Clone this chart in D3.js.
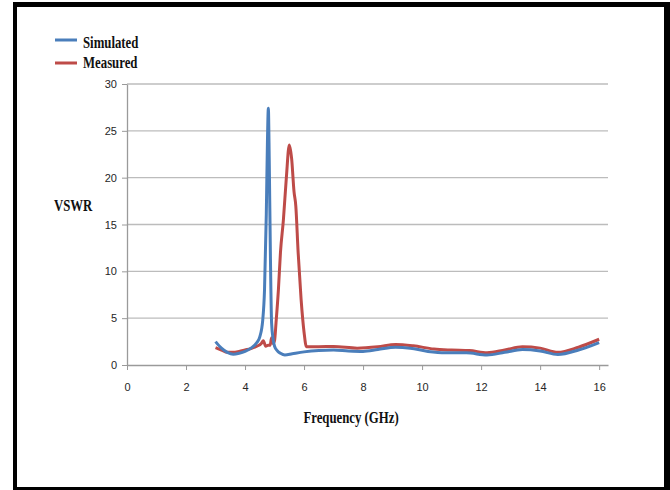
<!DOCTYPE html>
<html>
<head>
<meta charset="utf-8">
<script src="https://cdn.jsdelivr.net/npm/d3@7"></script>
<style>
  body { margin: 0; background: #fff; }
  svg { display: block; }
</style>
</head>
<body>
<div class="chart"></div>
<script>
var svgWidth = 670;
var svgHeight = 490;

// data
var simFreq = [3.0, 3.2, 3.4, 3.6, 3.8, 4.0, 4.2, 4.4, 4.5, 4.6, 4.66, 4.72, 4.76, 4.79, 4.82, 4.86,
  4.9, 4.95, 5.0, 5.1, 5.2, 5.35, 5.6, 6.0, 6.5, 7.0, 7.5, 8.0, 8.5, 9.1, 9.6, 10.2, 10.8, 11.5,
  12.2, 12.8, 13.4, 14.0, 14.6, 15.3, 16.0];
var simVswr = [2.5, 1.8, 1.35, 1.15, 1.25, 1.45, 1.8, 2.4, 3.0, 4.8, 8, 16, 24, 27.4, 22, 11.6,
  4.5, 2.8, 2.0, 1.5, 1.25, 1.07, 1.2, 1.4, 1.55, 1.6, 1.5, 1.45, 1.65, 1.9, 1.8, 1.45, 1.3, 1.3,
  1.07, 1.35, 1.65, 1.5, 1.12, 1.6, 2.4];

var measFreq = [3.0, 3.2, 3.4, 3.6, 3.8, 4.0, 4.2, 4.4, 4.55, 4.62, 4.7, 4.78, 4.85, 4.9, 4.95,
  5.0, 5.05, 5.13, 5.2, 5.3, 5.4, 5.5, 5.58, 5.66, 5.72, 5.8, 5.9, 6.0, 6.08, 6.5, 7.0, 7.8, 8.5,
  9.1, 9.7, 10.4, 11.0, 11.6, 12.2, 12.8, 13.4, 14.0, 14.6, 15.3, 16.0];
var measVswr = [1.85, 1.6, 1.35, 1.35, 1.45, 1.6, 1.75, 2.0, 2.3, 2.6, 2.0, 2.1, 2.1, 2.9, 2.3,
  2.6, 4.5, 8, 12, 15.5, 20, 23.5, 22, 18.5, 17, 12, 7, 3.5, 1.95, 1.95, 1.98, 1.8, 1.95,
  2.2, 2.05, 1.7, 1.6, 1.55, 1.3, 1.6, 1.95, 1.8, 1.35, 1.9, 2.75];

var seriesNames = ["Simulated", "Measured"];
var xTicks = [0, 2, 4, 6, 8, 10, 12, 14, 16];
var yTicks = [0, 5, 10, 15, 20, 25, 30];

var colors = ["#4a7ebb", "#be4b48"];

var svg = d3.select(".chart")
  .append("svg")
  .attr("width", svgWidth)
  .attr("height", svgHeight);

// black frame
svg.append("rect")
  .attr("x", 13).attr("y", 2)
  .attr("width", 657).attr("height", 488)
  .attr("fill", "#000");
svg.append("rect")
  .attr("x", 17).attr("y", 7)
  .attr("width", 647).attr("height", 480)
  .attr("fill", "#fff");

// scales
var xScale = d3.scaleLinear()
  .domain([0, 16.3])
  .range([127, 608]);

var yScale = d3.scaleLinear()
  .domain([0, 30])
  .range([365, 84]);

// gridlines
svg.append("g")
  .selectAll("line")
  .data(yTicks.filter(d => d > 0))
  .enter()
  .append("line")
  .attr("x1", xScale(0))
  .attr("x2", xScale(16.3))
  .attr("y1", d => yScale(d))
  .attr("y2", d => yScale(d))
  .attr("stroke", "#bcbcbc")
  .attr("stroke-width", 1.3);

// axes
var xAxis = d3.axisBottom(xScale)
  .tickValues(xTicks)
  .tickSize(5)
  .tickPadding(13)
  .tickSizeOuter(0);

var yAxis = d3.axisLeft(yScale)
  .tickValues(yTicks)
  .tickSize(5)
  .tickPadding(5)
  .tickSizeOuter(0);

var xg = svg.append("g")
  .attr("transform", `translate(0, ${yScale(0)})`)
  .call(xAxis);

var yg = svg.append("g")
  .attr("transform", `translate(${xScale(0)}, 0)`)
  .call(yAxis);

[xg, yg].forEach(function(g) {
  g.select(".domain").attr("stroke", "#9a9a9a").attr("stroke-width", 1.3);
  g.selectAll(".tick line").attr("stroke", "#9a9a9a");
  g.selectAll(".tick text")
    .attr("fill", "#262626")
    .style("font-family", "'Liberation Sans', Arial, sans-serif")
    .style("font-size", "11px");
});

// line generator
var line = d3.line()
  .x(d => xScale(d[0]))
  .y(d => yScale(d[1]))
  .curve(d3.curveMonotoneX);

var series = [
  d3.zip(simFreq, simVswr),
  d3.zip(measFreq, measVswr)
];

svg.append("path")
  .attr("d", line(series[1]))
  .attr("fill", "none")
  .attr("stroke", colors[1])
  .attr("stroke-width", 3)
  .attr("stroke-linejoin", "round");

svg.append("path")
  .attr("d", line(series[0]))
  .attr("fill", "none")
  .attr("stroke", colors[0])
  .attr("stroke-width", 3)
  .attr("stroke-linejoin", "round");

// legend
var legend = svg.append("g");
seriesNames.forEach(function(name, i) {
  var y = 42 + i * 20;
  legend.append("line")
    .attr("x1", 55).attr("x2", 77)
    .attr("y1", y - 2 + i * 3).attr("y2", y - 2 + i * 3)
    .attr("stroke", colors[i])
    .attr("stroke-width", 3);
  legend.append("text")
    .attr("transform", `translate(83, ${y + 6}) scale(0.8, 1)`)
    .style("font-family", "'Liberation Serif', 'Times New Roman', serif")
    .style("font-weight", "bold")
    .style("font-size", "16px")
    .attr("fill", "#111")
    .text(name);
});

// axis titles
svg.append("text")
  .attr("transform", "translate(54, 211) scale(0.8, 1)")
  .style("font-family", "'Liberation Serif', 'Times New Roman', serif")
  .style("font-weight", "bold")
  .style("font-size", "16px")
  .attr("fill", "#111")
  .text("VSWR");

svg.append("text")
  .attr("transform", "translate(351, 423) scale(0.8, 1)")
  .attr("text-anchor", "middle")
  .style("font-family", "'Liberation Serif', 'Times New Roman', serif")
  .style("font-weight", "bold")
  .style("font-size", "16px")
  .attr("fill", "#111")
  .text("Frequency (GHz)");
</script>
</body>
</html>
